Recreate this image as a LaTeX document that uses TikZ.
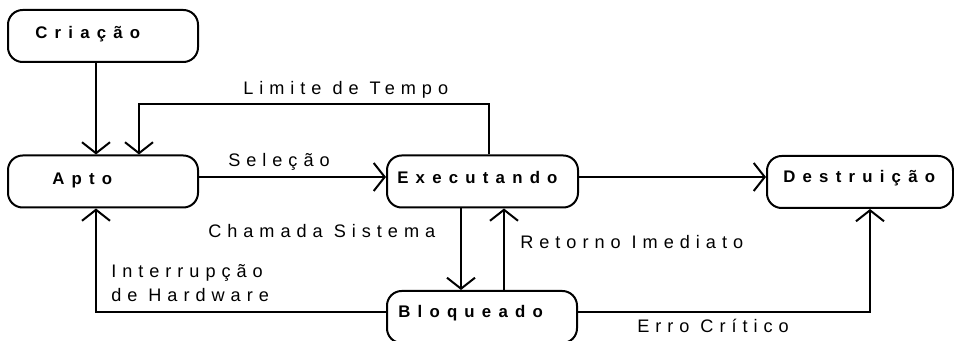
\documentclass[tikz,border=0pt]{standalone}
\usepackage{fontspec}
\usetikzlibrary{arrows.meta}
\newfontfamily\labfont[LetterSpace=33]{Liberation Sans}
\newfontfamily\boxfont[LetterSpace=43]{Liberation Sans}
\begin{document}
\begin{tikzpicture}[x=0.75pt,y=-0.75pt,
  statebox/.style={draw=black,line width=1.5pt,rounded corners=11pt,inner sep=0pt,
    minimum height=52*0.75pt},
  boxtext/.style={anchor=base west,inner sep=0pt,font=\boxfont\bfseries\fontsize{12.6}{15}\selectfont},
  labtext/.style={anchor=base west,inner sep=0pt,font=\labfont\fontsize{13.6}{16.5}\selectfont,align=left},
  conn/.style={line width=1.5pt,-{Straight Barb[length=8.25pt,width=21pt,line width=1.5pt]}},
  plain/.style={line width=1.5pt}]
\useasboundingbox (0,0) rectangle (954,341);
\clip (0,0) rectangle (954,341);
% boxes
\node[statebox,minimum width=190*0.75pt] (cri) at (103,36) {};
\node[statebox,minimum width=190*0.75pt] (apto) at (103,181.5) {};
\node[statebox,minimum width=191*0.75pt] (exe) at (482.5,181.5) {};
\node[statebox,minimum width=190*0.75pt] (blo) at (482,317) {};
\node[statebox,minimum width=186*0.75pt] (des) at (860,182) {};
% box texts
\node[boxtext] (tcri) at (35,39) {Criação};
\node[boxtext] (tapto) at (52,185) {Apto};
\node[boxtext] (texe) at (397,184) {Executando};
\node[boxtext] (tblo) at (398,318) {Bloqueado};
\node[boxtext] (tdes) at (783,183) {Destruição};
% helper coordinates
\coordinate (xa) at (96,0);
\coordinate (xl) at (139,0);
\coordinate (xe) at (489,0);
\coordinate (xd) at (461,0);
\coordinate (xu) at (504,0);
\coordinate (xf) at (870,0);
\coordinate (yl) at (0,104);
\coordinate (yr) at (0,177);
\coordinate (yb) at (0,312);
% connectors
\draw[conn] (cri.south -| xa) -- (apto.north -| xa);
\draw[conn] (exe.north -| xe) -- (xe |- yl) -- (xl |- yl) -- (apto.north -| xl);
\draw[conn] (apto.east |- yr) -- (exe.west |- yr);
\draw[conn] (exe.east |- yr) -- (des.west |- yr);
\draw[conn] (exe.south -| xd) -- (blo.north -| xd);
\draw[conn] (blo.north -| xu) -- (exe.south -| xu);
\draw[conn] (blo.west |- yb) -- (xa |- yb) -- (apto.south -| xa);
\draw[conn] (blo.east |- yb) -- (xf |- yb) -- (des.south -| xf);
% labels
\node[labtext] (llim) at (243,95) {Limite de Tempo};
\node[labtext] (lsel) at (228,167) {Seleção};
\node[labtext] (lcha) at (208,238) {Chamada Sistema};
\node[labtext] (lret) at (520,249) {Retorno Imediato};
\node[labtext] (lint1) at (111,278) {Interrupção};
\node[labtext] (lint2) at (111,302) {de Hardware};
\node[labtext] (lerr) at (637,333) {Erro Crítico};
\end{tikzpicture}
\end{document}
